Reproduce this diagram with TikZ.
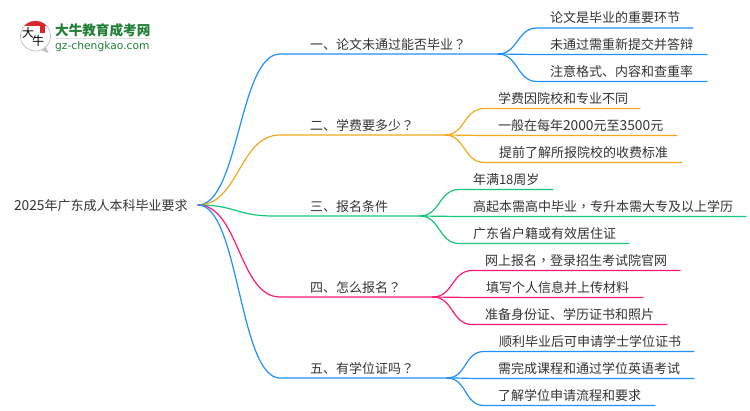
\documentclass[tikz,border=0pt]{standalone}
\usepackage{fontspec}
\setmainfont{Noto Sans CJK SC}
\newfontfamily\tcfont{Noto Sans CJK TC}
\newfontfamily\latinfont{DejaVu Sans}
\newcommand{\qm}{{\tcfont ？}}
\newcommand{\cm}{{\tcfont ，}}
\newcommand{\dg}[1]{{\fontsize{13.8}{15}\selectfont #1}}
\definecolor{cblue}{HTML}{1E90FF}
\definecolor{corange}{HTML}{F5A81C}
\definecolor{cgreen}{HTML}{14C77A}
\definecolor{cpink}{HTML}{FF1A75}
\definecolor{ctext}{HTML}{333333}
\definecolor{logogreen}{HTML}{1F7F35}
\definecolor{logored}{HTML}{D8262C}
\tikzset{
  txt/.style={anchor=base west,inner sep=0pt,outer sep=0pt,text=ctext,font=\fontsize{13}{15}\selectfont},
  conn/.style={line width=1.2pt,line cap=round},
  bblue/.style={conn,draw=cblue},
  borange/.style={conn,draw=corange},
  bgreen/.style={conn,draw=cgreen},
  bpink/.style={conn,draw=cpink},
}
\begin{document}
\begin{tikzpicture}[x=1pt,y=-1pt]
\useasboundingbox (0,0) rectangle (750,410);
% logo
\fill[black!25] (46,47) -- (48.5,53) -- (41,50) -- cycle;
\draw[black!25,fill=white,line width=0.7pt] (35.5,36) circle (15);
\begin{scope}
\clip (35.5,36) circle (15);
\fill[logored] (19,20) rectangle (52,25.5);
\end{scope}
\fill[logored] (39.5,25) rectangle (45,33);
\node[inner sep=0pt,text=black,font=\fontsize{12}{12}\selectfont] (logoda) at (28,33) {大};
\node[inner sep=0pt,text=black,font=\fontsize{12}{12}\selectfont] (logoniu) at (38,41) {牛};
\node[anchor=base west,inner sep=0pt,text=logogreen,font=\fontsize{13.6}{14}\selectfont\bfseries] (logot) at (55,35) {大牛教育成考网};
\draw[black!12,line width=0.8pt] (55,38.5) -- (150,38.5);
\node[anchor=base west,inner sep=0pt,text=logogreen,font=\latinfont\fontsize{10.7}{12}\selectfont] (logou) at (55,49) {gz-chengkao.com};
% root
\node[txt] (root) at (14,210) {\dg{2025}年广东成人本科毕业要求};
\coordinate (r) at (198,205);
% branch labels
\node[txt] (a) at (310,49) {一、论文未通过能否毕业\qm};
\node[txt] (b) at (310,130) {二、学费要多少\qm};
\node[txt] (c) at (310,211) {三、报名条件};
\node[txt] (d) at (310,292) {四、怎么报名\qm};
\node[txt] (e) at (310,373) {五、有学位证吗\qm};
% leaf labels
\node[txt] (a1) at (550,22) {论文是毕业的重要环节};
\node[txt] (a2) at (550,49) {未通过需重新提交并答辩};
\node[txt] (a3) at (550,76) {注意格式、内容和查重率};
\node[txt] (b1) at (498,103) {学费因院校和专业不同};
\node[txt] (b2) at (498,130) {一般在每年\dg{2000}元至\dg{3500}元};
\node[txt] (b3) at (499,157) {提前了解所报院校的收费标准};
\node[txt] (c1) at (473,184) {年满18周岁};
\node[txt] (c2) at (473,211) {高起本需高中毕业\cm 专升本需大专及以上学历};
\node[txt] (c3) at (473,238) {广东省户籍或有效居住证};
\node[txt] (d1) at (485,265) {网上报名\cm 登录招生考试院官网};
\node[txt] (d2) at (486,292) {填写个人信息并上传材料};
\node[txt] (d3) at (485,319) {准备身份证、学历证书和照片};
\node[txt] (e1) at (499,346) {顺利毕业后可申请学士学位证书};
\node[txt] (e2) at (498,373) {需完成课程和通过学位英语考试};
\node[txt] (e3) at (498,400) {了解学位申请流程和要求};
% main coordinates
\coordinate (as) at (280,54);  \coordinate (af) at (498,54);
\coordinate (bs) at (280,135); \coordinate (bf) at (445,135);
\coordinate (cs) at (274,216); \coordinate (cf) at (420,216);
\coordinate (ds) at (280,297); \coordinate (df) at (433,297);
\coordinate (es) at (280,378); \coordinate (ef) at (447,378);
% leaf underline coordinates
\coordinate (a1s) at (537,28);  \coordinate (a1e) at (693,28);
\coordinate (a2s) at (537,54.5);\coordinate (a2e) at (707,54.5);
\coordinate (a3s) at (537,81.5);\coordinate (a3e) at (707,81.5);
\coordinate (b1s) at (484,108.5);\coordinate (b1e) at (640,108.5);
\coordinate (b2s) at (484,135.5);\coordinate (b2e) at (677,135.5);
\coordinate (b3s) at (484,162.5);\coordinate (b3e) at (682,162.5);
\coordinate (c1s) at (459,189.5);\coordinate (c1e) at (553,189.5);
\coordinate (c2s) at (459,216.5);\coordinate (c2e) at (746,216.5);
\coordinate (c3s) at (459,243.5);\coordinate (c3e) at (629,243.5);
\coordinate (d1s) at (472,270.5);\coordinate (d1e) at (680,270.5);
\coordinate (d2s) at (472,297.5);\coordinate (d2e) at (643,297.5);
\coordinate (d3s) at (472,324.5);\coordinate (d3e) at (667,324.5);
\coordinate (e1s) at (484,351.5);\coordinate (e1e) at (694,351.5);
\coordinate (e2s) at (484,378.5);\coordinate (e2e) at (694,378.5);
\coordinate (e3s) at (484,405.5);\coordinate (e3e) at (655,405.5);
% connectors
\draw[bblue] (r) .. controls +(41,0) and +(-41,0) .. (as) -- (af);
\draw[borange] (r) .. controls +(41,0) and +(-41,0) .. (bs) -- (bf);
\draw[bgreen] (r) .. controls +(38,0) and +(-38,0) .. (cs) -- (cf);
\draw[bpink] (r) .. controls +(41,0) and +(-41,0) .. (ds) -- (df);
\draw[bblue] (r) .. controls +(41,0) and +(-41,0) .. (es) -- (ef);
\foreach \p/\f/\s in {a1/af/bblue,a2/af/bblue,a3/af/bblue,b1/bf/borange,b2/bf/borange,b3/bf/borange,c1/cf/bgreen,c2/cf/bgreen,c3/cf/bgreen,d1/df/bpink,d2/df/bpink,d3/df/bpink,e1/ef/bblue,e2/ef/bblue,e3/ef/bblue}
  \draw[\s] (\f) .. controls +(20,0) and +(-20,0) .. (\p s) -- (\p e);
\end{tikzpicture}
\end{document}
